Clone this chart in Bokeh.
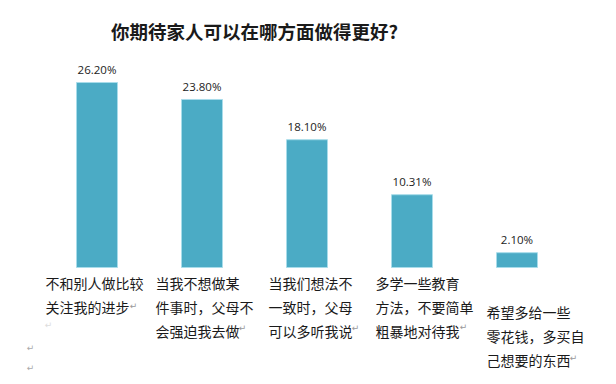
import numpy as np
from bokeh.plotting import figure
from bokeh.models import ColumnDataSource, Range1d, Label
from bokeh.core.properties import value
from bokeh.embed import file_html
from bokeh.resources import INLINE

# ---------------- data ----------------
title_text = "你期待家人可以在哪方面做得更好?"
categories = [
    "不和别人做比较\n关注我的进步",
    "当我不想做某\n件事时，父母不\n会强迫我去做",
    "当我们想法不\n一致时，父母\n可以多听我说",
    "多学一些教育\n方法，不要简单\n粗暴地对待我",
    "希望多给一些\n零花钱，多买自\n己想要的东西",
]
values = [26.20, 23.80, 18.10, 10.31, 2.10]
value_labels = ["%.2f%%" % v for v in values]

# ---------------- layout / style ----------------
W, H = 616, 384
px_per_unit_x = 105.0
px_per_unit_y = 7.06
x0_px = 96.5          # canvas x of first category centre
base_px = 267.0       # canvas y of baseline
bar_color = "#4BABC5"
cjk = "Noto Sans CJK SC"

xs = np.arange(len(categories))
x_range = Range1d(-x0_px / px_per_unit_x, (W - x0_px) / px_per_unit_x)
y_range = Range1d(-(H - base_px) / px_per_unit_y, base_px / px_per_unit_y)

p = figure(width=W, height=H, x_range=x_range, y_range=y_range,
           output_backend="svg", toolbar_location=None,
           min_border=0, min_border_left=0, min_border_right=0,
           min_border_top=0, min_border_bottom=0)
p.axis.visible = False
p.grid.visible = False
p.outline_line_color = None
p.background_fill_color = "white"
p.border_fill_color = "white"

src = ColumnDataSource(dict(x=xs, top=values, vlabel=value_labels, cat=categories))

p.vbar(x="x", top="top", bottom=0, width=41 / px_per_unit_x, source=src,
       fill_color=bar_color, line_color="#a8dcea", line_width=1)

p.text(x="x", y="top", text="vlabel", source=src, y_offset=-13,
       text_align="center", text_baseline="middle",
       text_font=value("Open Sans"), text_font_size="11.5px", text_color="#222222")

# category labels placed under each bar
label_dx = [-51.5, -46.5, -38.5, -36.5, -30.5]
label_dy = [5, 5, 5, 5, 34]
for i in range(len(categories)):
    p.text(x=[xs[i]], y=[0], text=[categories[i]], x_offset=label_dx[i], y_offset=label_dy[i],
           text_align="left", text_baseline="top", text_line_height=1.2,
           text_font=value(cjk), text_font_size="14px", text_color="#1a1a1a")

# paragraph marks (from the original document screenshot)
marks = [(0, 36.5, 38, "#999999"), (0, -48.5, 57, "#dddddd"), (0, -66.5, 80, "#aaaaaa"),
         (0, -66.5, 100, "#aaaaaa"), (1, 40.5, 60, "#999999"), (2, 48.5, 60, "#999999"),
         (3, 51.5, 59, "#999999"), (4, 56.5, 90, "#999999")]
for i, dx, dy, c in marks:
    p.text(x=[xs[i]], y=[0], text=["↵"], x_offset=dx, y_offset=dy,
           text_align="center", text_baseline="middle",
           text_font=value("DejaVu Sans"), text_font_size="9px", text_color=c)

title = Label(x=(254 - x0_px) / px_per_unit_x, y=y_range.end - 30 / px_per_unit_y, text=title_text,
              text_align="center", text_baseline="middle",
              text_font=cjk, text_font_size="18.5px", text_font_style="bold",
              text_color="#1a1a1a")
p.add_layout(title)

open("out.html", "w").write(file_html(p, INLINE))
